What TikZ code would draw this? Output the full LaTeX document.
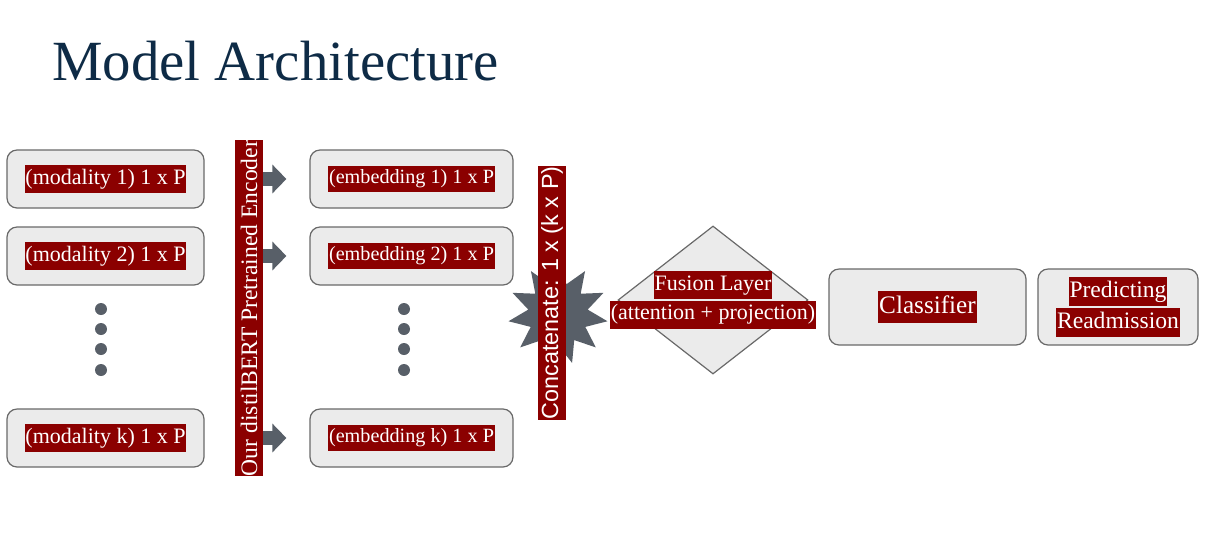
\documentclass[tikz,border=0pt]{standalone}
\usepackage{fontspec}
\setmainfont{Liberation Serif}
\newfontfamily\arialfont{Liberation Sans}
\usetikzlibrary{shapes.geometric,shapes.symbols,arrows.meta}
\definecolor{labelred}{RGB}{139,0,0}
\definecolor{boxgray}{RGB}{235,235,235}
\definecolor{edgegray}{RGB}{105,105,105}
\definecolor{slate}{RGB}{88,95,104}
\definecolor{titlenavy}{RGB}{14,43,70}
\newcommand{\redtag}[1]{{\setlength{\fboxsep}{0.4pt}\colorbox{labelred}{\strut #1}}}
\tikzset{
  stagebox/.style={draw=edgegray, line width=0.6pt, fill=boxgray, rounded corners=5pt,
    minimum width=98.5pt, minimum height=29pt, inner sep=0pt, text=white,
    font=\fontsize{11}{13}\selectfont},
  embbox/.style={stagebox, minimum width=101.5pt, font=\fontsize{10.1}{12}\selectfont},
  redbar/.style={rotate=90, fill=labelred, text=white, minimum height=14pt,
    inner xsep=0pt, inner ysep=0pt},
  blockarrow/.style={draw=slate, line width=6.8pt, shorten >=11.5pt,
    -{Triangle[length=7pt,width=14pt]}},
  dotmark/.style={circle, fill=slate, inner sep=0pt, minimum size=6pt},
}
\begin{document}
\begin{tikzpicture}[x=0.5pt,y=-0.5pt]
\useasboundingbox (0,0) rectangle (1206,559);
\node[anchor=base west, text=titlenavy, font=\fontsize{28.4}{34}\selectfont, inner sep=0pt] (title) at (52,80) {Model Architecture};

% input modalities
\node[stagebox] (mod1) at (105.5,179) {\redtag{(modality 1) 1 x P}};
\node[stagebox] (mod2) at (105.5,256) {\redtag{(modality 2) 1 x P}};
\node[stagebox] (modk) at (105.5,438) {\redtag{(modality k) 1 x P}};
\node[dotmark] (ldot1) at (101,309){};
\node[dotmark] (ldot2) at (101,329){};
\node[dotmark] (ldot3) at (101,349){};
\node[dotmark] (ldot4) at (101,370){};

% encoder
\node[redbar, font=\fontsize{11.8}{14}\selectfont] (encoder) at (249,308) {Our distilBERT Pretrained Encoder};

% embeddings
\node[embbox] (emb1) at (411.5,179) {\redtag{(embedding 1) 1 x P}};
\node[embbox] (emb2) at (411.5,256) {\redtag{(embedding 2) 1 x P}};
\node[embbox] (embk) at (411.5,438) {\redtag{(embedding k) 1 x P}};
\node[dotmark] (rdot1) at (404,309){};
\node[dotmark] (rdot2) at (404,329){};
\node[dotmark] (rdot3) at (404,349){};
\node[dotmark] (rdot4) at (404,370){};
\draw[blockarrow] (encoder.south |- emb1.west) -- (emb1.west);
\draw[blockarrow] (encoder.south |- emb2.west) -- (emb2.west);
\draw[blockarrow] (encoder.south |- embk.west) -- (embk.west);

% concatenation
\node[starburst, fill=slate, draw=none, minimum width=50pt, minimum height=51pt,
  starburst points=11, starburst point height=10pt, random starburst=0] (burst) at (558,314) {};
\node[redbar, font=\arialfont\fontsize{11.7}{14}\selectfont] (concat) at (552,293) {Concatenate: 1 x (k x P)};

% fusion and output
\node[diamond, draw=edgegray, line width=0.6pt, fill=boxgray, minimum width=95pt,
  minimum height=74pt, inner sep=0pt] (fusion) at (713,300) {};
\node[align=center, text=white, inner sep=0pt, font=\fontsize{11}{13.2}\selectfont] (fusiontxt) at (fusion.center)
  {\redtag{Fusion Layer}\\[-0.4pt]\redtag{(attention + projection)}};
\node[stagebox, minimum width=98.5pt, minimum height=38pt, font=\fontsize{12.6}{15}\selectfont] (classifier) at (927.5,307) {\redtag{Classifier}};
\node[stagebox, minimum width=80pt, minimum height=38pt, font=\fontsize{11.8}{14}\selectfont, align=center] (predict) at (1118,307)
  {\redtag{Predicting}\\[-0.4pt]\redtag{Readmission}};

\end{tikzpicture}
\end{document}
